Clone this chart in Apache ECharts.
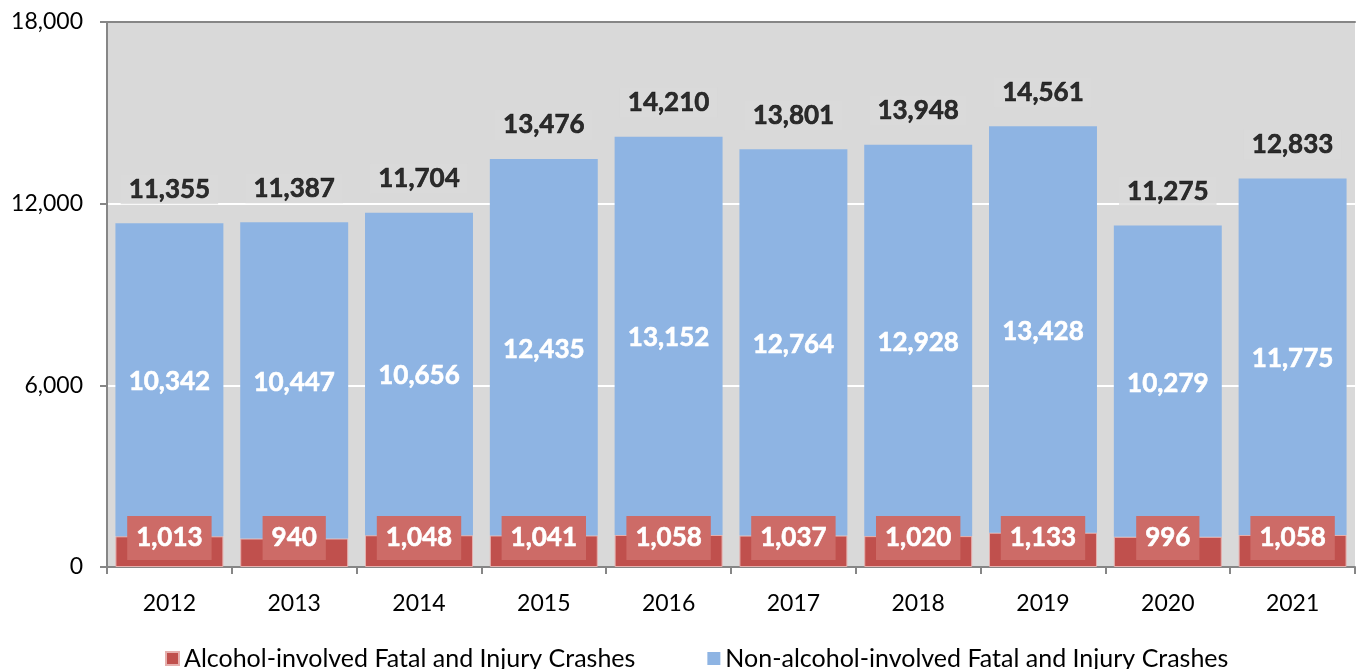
<!DOCTYPE html>
<html>
<head>
<meta charset="utf-8">
<script src="https://cdn.jsdelivr.net/npm/echarts@6/dist/echarts.min.js"></script>
<style>
  html, body { margin: 0; padding: 0; background: #fff; }
  #chart { width: 1357px; height: 669px; }
</style>
</head>
<body>
<div id="chart"></div>
<script>
// values
var years = ["2012", "2013", "2014", "2015", "2016", "2017", "2018", "2019", "2020", "2021"];
var alcohol = [1013, 940, 1048, 1041, 1058, 1037, 1020, 1133, 996, 1058];
var nonAlcohol = [10342, 10447, 10656, 12435, 13152, 12764, 12928, 13428, 10279, 11775];
var totals = [11355, 11387, 11704, 13476, 14210, 13801, 13948, 14561, 11275, 12833];
var yTicks = [0, 6000, 12000, 18000];

var FONT = "Lato";
var fmt = function (v) { return Number(v).toLocaleString("en-US"); };

var chart = echarts.init(document.getElementById("chart"));
chart.setOption({
  animation: false,
  textStyle: { fontFamily: FONT },
  grid: {
    left: 107,
    right: 2,
    top: 22,
    bottom: 102,
    show: true,
    backgroundColor: "#d9d9d9",
    borderWidth: 0
  },
  legend: {
    data: ["Alcohol-involved Fatal and Injury Crashes", "Non-alcohol-involved Fatal and Injury Crashes"],
    top: 641,
    left: 160,
    itemWidth: 13,
    itemHeight: 13,
    itemGap: 72,
    icon: "rect",
    textStyle: { fontSize: 25, color: "#000", fontFamily: FONT }
  },
  xAxis: [
    {
      type: "category",
      data: years,
      axisLine: { lineStyle: { color: "#868686", width: 2 } },
      axisTick: { show: true, length: 7, lineStyle: { color: "#868686", width: 2 } },
      axisLabel: { fontSize: 23, color: "#000", margin: 25, fontFamily: FONT }
    },
    {
      type: "category",
      data: years,
      position: "top",
      axisLine: { lineStyle: { color: "#868686", width: 2 } },
      axisTick: { show: false },
      axisLabel: { show: false }
    }
  ],
  yAxis: {
    type: "value",
    min: yTicks[0],
    max: yTicks[yTicks.length - 1],
    interval: 6000,
    axisLine: { show: true, lineStyle: { color: "#868686", width: 2 } },
    axisTick: { show: true, length: 7, lineStyle: { color: "#868686", width: 2 } },
    axisLabel: { fontSize: 23, color: "#000", margin: 24, fontFamily: FONT, formatter: fmt },
    splitLine: { lineStyle: { color: "#ffffff", width: 2 } }
  },
  series: [
    {
      name: "Alcohol-involved Fatal and Injury Crashes",
      type: "bar",
      stack: "crashes",
      barCategoryGap: "13.5%",
      data: alcohol,
      itemStyle: { color: "#c0504d", borderColor: "#e6b0ae", borderWidth: 1 },
      label: {
        show: true,
        position: "insideBottom",
        distance: 7,
        formatter: function (p) { return fmt(p.value); },
        color: "#fff",
        fontWeight: "bold",
        fontSize: 26,
        fontFamily: FONT,
        textBorderColor: "#fff",
        textBorderWidth: 0.6,
        backgroundColor: "#cd6b67",
        padding: [9, 9],
        lineHeight: 26
      }
    },
    {
      name: "Non-alcohol-involved Fatal and Injury Crashes",
      type: "bar",
      stack: "crashes",
      barCategoryGap: "13.5%",
      data: nonAlcohol,
      itemStyle: { color: "#8eb4e3" },
      label: {
        show: true,
        position: "inside",
        offset: [0, 2],
        formatter: function (p) { return fmt(p.value); },
        color: "#fff",
        fontWeight: "bold",
        fontSize: 26,
        fontFamily: FONT,
        textBorderColor: "#fff",
        textBorderWidth: 0.6
      }
    },
    {
      name: "Total",
      type: "scatter",
      data: totals,
      symbolSize: 0,
      silent: true,
      label: {
        show: true,
        position: "top",
        distance: 19,
        formatter: function (p) { return fmt(p.value); },
        color: "#000",
        fontWeight: "bold",
        fontSize: 26,
        fontFamily: FONT,
        textBorderColor: "#000",
        textBorderWidth: 0.6,
        backgroundColor: "#d9d9d9",
        padding: [2, 8],
        lineHeight: 26
      }
    }
  ]
});
</script>
</body>
</html>
